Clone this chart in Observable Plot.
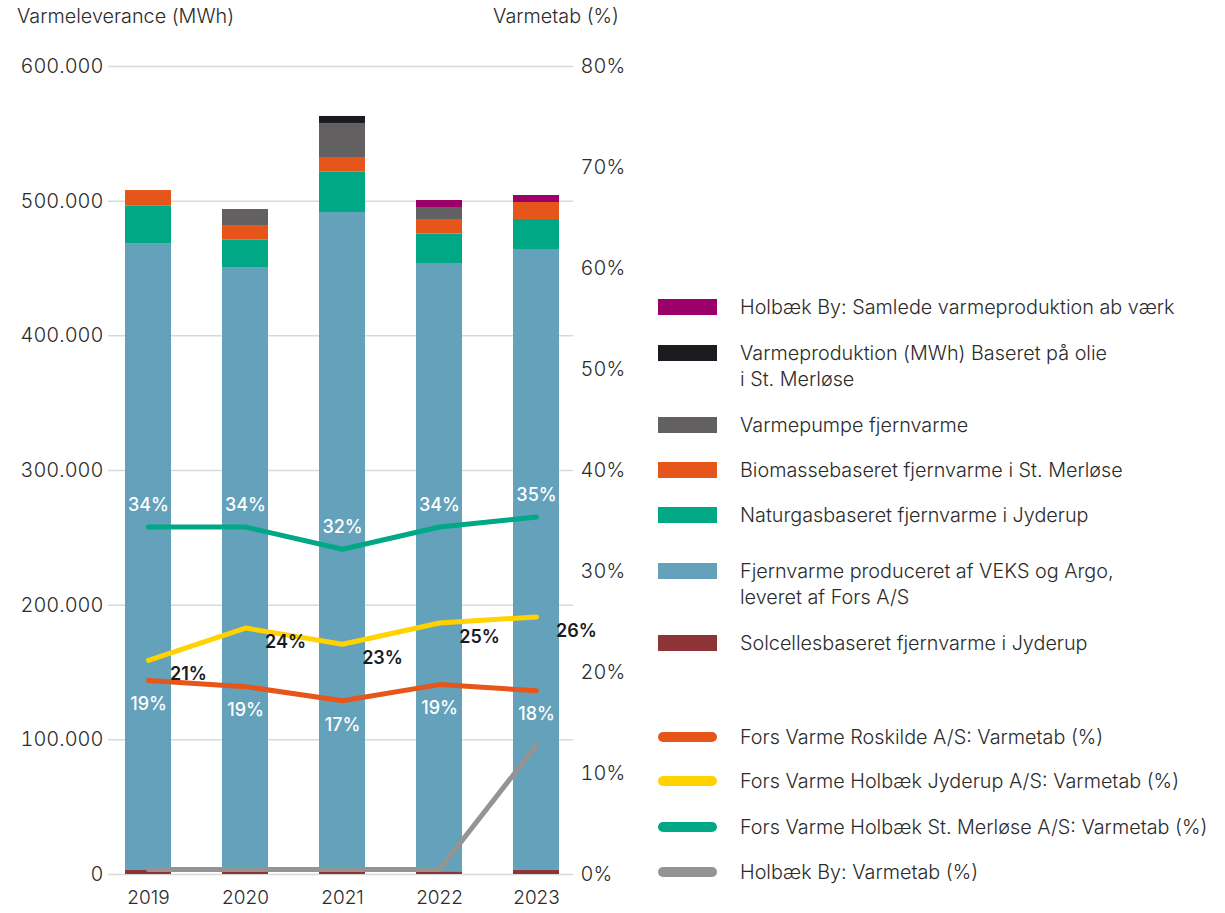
<!DOCTYPE html>
<html><head><meta charset="utf-8">
<script src="https://cdn.jsdelivr.net/npm/d3@7"></script>
<script src="https://cdn.jsdelivr.net/npm/@observablehq/plot@0.6"></script>
<style>
body{margin:0;background:#fff;font-family:Inter,sans-serif;color:#2b2b2b;}
#wrap{position:relative;width:1225px;height:913px;overflow:hidden;}
#chart{position:absolute;left:0;top:0;}
.axt{position:absolute;font-size:19.8px;line-height:22px;color:#2b2b2b;white-space:nowrap;font-weight:300;}
.lg{position:absolute;left:658px;}
.sw{position:absolute;left:0;width:59px;}
.lt{position:absolute;left:82px;font-size:19.8px;line-height:26px;white-space:pre-line;width:540px;color:#2b2b2b;font-weight:300;}
</style></head><body><div id="wrap"><div id="chart"></div></div>
<script>
const years = ["2019","2020","2021","2022","2023"];
// stacked series, bottom to top
const barSeries = [
  "Solcellesbaseret fjernvarme i Jyderup",
  "Fjernvarme produceret af VEKS og Argo,\nleveret af Fors A/S",
  "Naturgasbaseret fjernvarme i Jyderup",
  "Biomassebaseret fjernvarme i St. Merløse",
  "Varmepumpe fjernvarme",
  "Varmeproduktion (MWh) Baseret på olie\ni St. Merløse",
  "Holbæk By: Samlede varmeproduktion ab værk"
];
const barColors = ["#8f3436","#64a1bb","#00a886","#e6561a","#626061","#1b1a1f","#9b0068"];
const solcelle    = [3000, 3000, 3000, 2000, 3000];
const veks        = [465500, 447700, 488600, 451700, 461100];
const naturgas    = [27700, 20300, 29900, 21800, 22300];
const biomasse    = [11700, 10900, 10900, 10900, 12600];
const varmepumpe  = [0, 11900, 25300, 8900, 0];
const olie        = [0, 0, 5200, 0, 0];
const holbaekProd = [0, 0, 0, 5200, 5200];

const lineSeries = [
  "Fors Varme Roskilde A/S: Varmetab (%)",
  "Fors Varme Holbæk Jyderup A/S: Varmetab (%)",
  "Fors Varme Holbæk St. Merløse A/S: Varmetab (%)",
  "Holbæk By: Varmetab (%)"
];
const lineColors = ["#e6561a","#ffd200","#00a886","#949494"];
const tabRoskilde = [19.2, 18.6, 17.2, 18.8, 18.2];
const tabJyderup  = [21.2, 24.4, 22.8, 24.9, 25.5];
const tabMerlose  = [34.4, 34.4, 32.2, 34.4, 35.4];
const tabHolbaek  = [0.5, 0.5, 0.5, 0.5, 12.8];

const leftTicks  = [0, 100000, 200000, 300000, 400000, 500000, 600000];
const rightTicks = [0, 10, 20, 30, 40, 50, 60, 70, 80];
const leftTitle = "Varmeleverance (MWh)";
const rightTitle = "Varmetab (%)";

// ---- build tables
const barValues = [solcelle, veks, naturgas, biomasse, varmepumpe, olie, holbaekProd];
const bars = [];
barSeries.forEach((s, i) => years.forEach((y, j) => bars.push({year: y, series: s, value: barValues[i][j]})));
const lineValues = [tabRoskilde, tabJyderup, tabMerlose, tabHolbaek];
const lines = [];
lineSeries.forEach((s, i) => years.forEach((y, j) => lines.push({year: y, series: s, pct: lineValues[i][j]})));
const yMax = 600000, pMax = 80;
const p2y = p => p * yMax / pMax;
const dk = d3.formatLocale({decimal: ",", thousands: ".", grouping: [3], currency: ["", " kr"]}).format(",d");
const FONT = 'Inter, sans-serif';

const byS = s => lines.filter(d => d.series === s);

const plot = Plot.plot({
  width: 640, height: 913,
  marginLeft: 108, marginRight: 67, marginTop: 66, marginBottom: 39,
  style: {fontFamily: FONT, fontSize: "20px", color: "#2b2b2b", background: "white", fontWeight: 300},
  x: {domain: years, range: [125, 559], paddingInner: 0.526, paddingOuter: 0, label: null},
  y: {domain: [0, yMax], label: null},
  color: {domain: barSeries, range: barColors},
  marks: [
    Plot.ruleY(leftTicks, {stroke: "#d9d9d9", strokeWidth: 1.5}),
    Plot.barY(bars, {x: "year", y: "value", fill: "series", order: barSeries}),
    Plot.axisY(leftTicks, {anchor: "left", tickSize: 0, tickPadding: 5, tickFormat: dk, label: null, fontSize: 20}),
    Plot.axisY(rightTicks.map(p2y), {anchor: "right", tickSize: 0, tickPadding: 7, tickFormat: d => Math.round(d * pMax / yMax) + "%", label: null, fontSize: 20}),
    Plot.axisX({tickSize: 0, tickPadding: 16, label: null, fontSize: 19}),
    ...lineSeries.map((s, i) => Plot.line(byS(s), {x: "year", y: d => p2y(d.pct), stroke: lineColors[i], strokeWidth: 5, strokeLinecap: "round"})),
    Plot.text(byS(lineSeries[2]), {x: "year", y: d => p2y(d.pct), text: d => Math.round(d.pct) + "%", dy: -22, fill: "white", fontWeight: 500, fontSize: 18}),
    Plot.text(byS(lineSeries[0]), {x: "year", y: d => p2y(d.pct), text: d => Math.round(d.pct) + "%", dy: 24, fill: "white", fontWeight: 500, fontSize: 18}),
    Plot.text(byS(lineSeries[1]), {x: "year", y: d => p2y(d.pct), text: d => Math.round(d.pct) + "%", dx: 40, dy: 14, fill: "#1b1a1f", fontWeight: 600, fontSize: 18})
  ]
});
const wrap = document.getElementById("wrap");
document.getElementById("chart").appendChild(plot);

// axis titles
const t1 = document.createElement("div"); t1.className = "axt"; t1.style.left = "17px"; t1.style.top = "5px"; t1.textContent = leftTitle; wrap.appendChild(t1);
const t2 = document.createElement("div"); t2.className = "axt"; t2.style.right = "606px"; t2.style.top = "5px"; t2.textContent = rightTitle; wrap.appendChild(t2);

// legend
const barLegendTops = [299, 345, 417, 462, 507, 563, 635]; // top -> bottom order
const legendBars = barSeries.map((s, i) => ({s, c: barColors[i]})).reverse();
legendBars.forEach((d, i) => {
  const g = document.createElement("div"); g.className = "lg"; g.style.top = barLegendTops[i] + "px";
  const sw = document.createElement("div"); sw.className = "sw"; sw.style.top = "0px"; sw.style.height = "16px"; sw.style.background = d.c;
  const tx = document.createElement("div"); tx.className = "lt"; tx.style.top = "-5px"; tx.textContent = d.s;
  g.appendChild(sw); g.appendChild(tx); wrap.appendChild(g);
});
const lineLegendCenters = [737, 781, 827, 872];
lineSeries.forEach((s, i) => {
  const g = document.createElement("div"); g.className = "lg"; g.style.top = (lineLegendCenters[i] - 5) + "px";
  const sw = document.createElement("div"); sw.className = "sw"; sw.style.top = "0px"; sw.style.height = "10px"; sw.style.borderRadius = "5px"; sw.style.background = lineColors[i];
  const tx = document.createElement("div"); tx.className = "lt"; tx.style.top = "-8px"; tx.textContent = s;
  g.appendChild(sw); g.appendChild(tx); wrap.appendChild(g);
});
</script></body></html>
